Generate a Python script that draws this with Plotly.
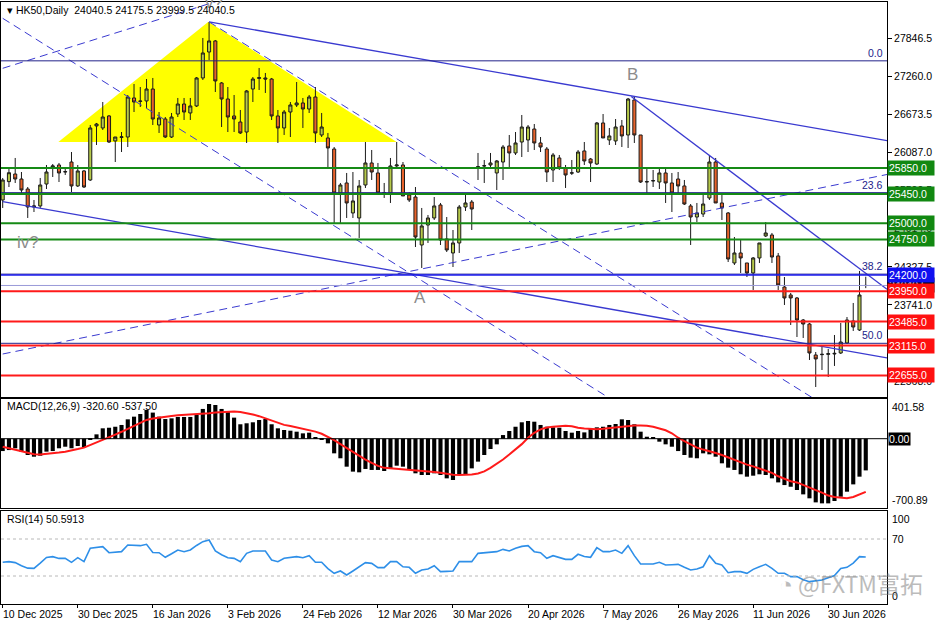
import plotly.graph_objects as go

# ---------------- DATA ----------------
opens = [25357, 25640, 25757, 25680, 25526, 25249, 25265, 25603, 25865, 25896,
         25795, 25942, 25573, 25804, 25665, 26497, 26466, 26651, 26266, 26320,
         26327, 26928, 26875, 26882, 27066, 26512, 26604, 26327, 26681, 26835,
         26697, 26805, 27236, 27636, 27806, 27159, 26912, 26651, 26558, 26404,
         27066, 27230, 27236, 27220, 26651, 26466, 26712, 26820, 26851, 26758,
         26943, 26358, 26312, 26142, 25465, 25619, 25157, 25080, 25588, 25927,
         25773, 25465, 25465, 25881, 25896, 25434, 25403, 24664, 24972, 25080,
         25280, 24757, 24541, 24695, 25249, 25326, 25860, 25880, 25896, 25773,
         25942, 26189, 26081, 26250, 26281, 26450, 26235, 26142, 25819, 26004,
         25850, 25770, 25788, 26112, 25988, 25911, 26543, 26281, 26266, 26497,
         26358, 26897, 26358, 25634, 25650, 25634, 25773, 25619, 25680, 25573,
         25265, 25095, 25141, 25388, 25942, 25311, 25157, 24387, 24541, 24387,
         24233, 24464, 24803, 24818, 24495, 24017, 23894, 23848, 23509, 23447,
         22970, 22975, 22980, 22985, 23001, 23155, 23494, 23355, 24040.5]
highs = [25696, 25850, 26004, 25788, 25557, 25357, 25696, 25896, 25911, 25927,
         25865, 26096, 25896, 25819, 26512, 26543, 26866, 26666, 26327, 26404,
         26974, 27143, 27097, 27220, 27236, 26712, 26635, 26697, 26928, 26928,
         26928, 27251, 27852, 28098, 27821, 27174, 27097, 26974, 26743, 27051,
         27251, 27390, 27313, 27236, 26743, 26743, 26866, 27174, 26928, 26974,
         27097, 26697, 26389, 26173, 25619, 25773, 25788, 25665, 26250, 26127,
         25927, 25619, 26004, 26250, 25942, 25480, 25557, 25234, 25126, 25403,
         25311, 25095, 24895, 25280, 25449, 25357, 26081, 25973, 26081, 25973,
         26204, 26358, 26404, 26666, 26512, 26527, 26327, 26173, 26081, 26050,
         25896, 25973, 26127, 26250, 26004, 26558, 26681, 26466, 26604, 26589,
         26928, 26943, 26358, 25850, 25819, 25850, 25850, 25773, 25788, 25665,
         25295, 25311, 25434, 26050, 26004, 25434, 25172, 24787, 24741, 24387,
         24479, 24695, 25018, 24849, 24541, 24171, 23925, 23863, 23524, 23463,
         23016, 23124, 23062, 23278, 23463, 23555, 23771, 24264, 24175.5]
lows = [25234, 25557, 25619, 25465, 25080, 25172, 25234, 25526, 25711, 25634,
        25742, 25480, 25557, 25542, 25650, 26204, 26435, 26235, 25942, 26096,
        26173, 26712, 26789, 26774, 26512, 26389, 26312, 26312, 26635, 26589,
        26589, 26789, 27205, 27513, 27020, 26481, 26404, 26404, 26373, 26235,
        26866, 27051, 27005, 26589, 26235, 26358, 26327, 26789, 26466, 26697,
        26235, 26327, 25850, 25003, 25003, 25080, 25080, 24772, 25542, 25665,
        25434, 25388, 25311, 25865, 25419, 25326, 24633, 24310, 24695, 25049,
        24664, 24556, 24325, 24541, 25188, 24895, 25665, 25619, 25850, 25511,
        25665, 25865, 26050, 26019, 26096, 26127, 26096, 25634, 25634, 25819,
        25542, 25742, 25773, 25896, 25634, 25896, 26312, 26204, 26204, 26173,
        26158, 26235, 25619, 25465, 25557, 25526, 25311, 25172, 25434, 25280,
        24664, 25018, 25095, 25357, 25311, 25049, 24402, 24356, 24233, 24171,
        23971, 24387, 24787, 24387, 23971, 23740, 23432, 23247, 23232, 22893,
        22477, 22739, 22631, 22801, 22985, 23139, 23340, 23340, 23999.5]
closes = [25665, 25777, 25680, 25511, 25249, 25265, 25588, 25788, 25881, 25773,
          25790, 25573, 25804, 25557, 26466, 26527, 26635, 26250, 26327, 26330,
          26943, 26866, 26880, 27066, 26604, 26620, 26327, 26635, 26835, 26712,
          26805, 27236, 27621, 27806, 27190, 26912, 26635, 26604, 26389, 27036,
          27220, 27240, 27220, 26651, 26466, 26712, 26820, 26851, 26758, 26943,
          26389, 26481, 26158, 25465, 25588, 25311, 25342, 25573, 25927, 25788,
          25465, 25470, 25881, 25896, 25419, 25357, 24787, 24957, 25080, 25265,
          24741, 24587, 24695, 25249, 25311, 25218, 25870, 25885, 25927, 25958,
          26173, 26081, 26235, 26481, 26481, 26235, 26173, 25788, 26050, 25850,
          25742, 25775, 26096, 25958, 25927, 26543, 26312, 26343, 26481, 26343,
          26912, 26358, 25634, 25640, 25655, 25773, 25619, 25465, 25573, 25295,
          25095, 25157, 25295, 25942, 25311, 25234, 24448, 24541, 24464, 24233,
          24464, 24695, 24849, 24479, 24048, 23848, 23848, 23509, 23447, 23001,
          22909, 22980, 22990, 22995, 23170, 23509, 23401, 23894, 24040.5]

macd_hist = [-125, -115, -97, -131, -165, -182, -172, -131, -125, -97,
             -81, -97, -74, -87, -6, 44, 105, 111, 121, 139,
             196, 223, 250, 291, 264, 223, 199, 206, 220, 220,
             220, 240, 301, 351, 341, 301, 274, 213, 146, 156,
             166, 189, 199, 146, 105, 88, 81, 71, 54, 61,
             10, -6, -47, -148, -198, -283, -333, -340, -306, -316,
             -316, -327, -300, -273, -283, -316, -350, -367, -367, -350,
             -367, -401, -418, -367, -367, -300, -232, -165, -104, -57,
             37, 78, 121, 166, 179, 172, 139, 121, 115, 111,
             78, 61, 78, 64, 105, 115, 121, 139, 149, 196,
             189, 146, 71, 20, 10, -30, -57, -81, -125, -165,
             -192, -198, -148, -158, -182, -249, -293, -316, -360, -384,
             -374, -360, -367, -401, -442, -469, -486, -519, -563, -603,
             -644, -654, -654, -630, -587, -536, -462, -384, -320.6]
macd_signal = [-81, -95, -110, -125, -145, -158, -160, -155, -148, -140,
               -131, -120, -105, -90, -65, -35, -10, 15, 42, 70,
               100, 125, 155, 190, 205, 215, 223, 230, 237, 240,
               243, 246, 250, 258, 266, 270, 273, 274, 270, 260,
               245, 228, 208, 188, 160, 140, 128, 113, 100, 88,
               72, 50, 18, -15, -55, -95, -140, -180, -212, -245,
               -275, -295, -300, -305, -310, -313, -317, -322, -330, -338,
               -345, -358, -364, -367, -367, -362, -352, -330, -295, -255,
               -210, -160, -110, -55, 10, 60, 95, 113, 122, 128,
               132, 125, 110, 103, 98, 95, 100, 108, 115, 122,
               130, 133, 133, 132, 120, 100, 85, 55, 10, -25,
               -60, -90, -110, -125, -145, -165, -190, -213, -232, -262,
               -280, -302, -325, -345, -380, -405, -430, -442, -470, -495,
               -520, -545, -575, -590, -600, -603, -590, -565, -537.5]
rsi = [44.8, 45.5, 44.5, 41, 38.5, 38.3, 44, 50, 50.9, 49,
       49, 44.8, 49.8, 45.5, 60, 60.5, 61.7, 55.2, 55.5, 56.3,
       63.5, 63, 62.8, 64.3, 55.4, 55.2, 50.2, 54, 58.1, 56.3,
       58.1, 63, 67.1, 68.9, 57, 53, 49.8, 49.1, 45.5, 54.5,
       57, 57, 57, 47.3, 45.5, 49.1, 50, 50.9, 49.8, 52,
       44.8, 44.8, 38, 32.9, 35.4, 31.1, 35.4, 40, 44.4, 43.7,
       39, 39, 45.5, 45.5, 40, 39.4, 32.9, 36.5, 37.6, 41.1,
       34.7, 35, 35.4, 45.5, 45.5, 45.5, 54.5, 55.2, 55.5, 56.3,
       58.8, 57, 60, 62, 62.8, 56.3, 55.2, 49.1, 52, 50,
       48, 48, 53.5, 51, 50.2, 60.6, 56.3, 56.3, 58.1, 54.5,
       62.8, 52, 43, 43, 43, 44.8, 41.9, 42.2, 42.6, 39.4,
       36.5, 37.6, 40, 52, 43.7, 41.9, 33.6, 34.7, 34.7, 32.9,
       37.2, 40, 42.6, 38.2, 32.9, 32.9, 29.3, 29.3, 26, 23.9,
       25, 25.7, 28.1, 30.4, 38.2, 39.4, 44, 50.9, 50.5913]

date_label_bars = [0, 12, 24, 36, 48, 60, 72, 84, 96, 108, 120, 132]
date_labels = ["10 Dec 2025", "30 Dec 2025", "16 Jan 2026", "3 Feb 2026",
               "24 Feb 2026", "12 Mar 2026", "30 Mar 2026", "20 Apr 2026",
               "7 May 2026", "26 May 2026", "11 Jun 2026", "30 Jun 2026"]

price_ticks = [27846.5, 27260.0, 26673.5, 26087.0, 25500.5, 24914.0,
               24327.5, 23741.0, 23154.5, 22568.0]

green_levels = [25850.0, 25450.0, 25000.0, 24750.0]
blue_levels = [24200.0]
red_levels = [23950.0, 23485.0, 23115.0, 22655.0]
fib_names = ["0.0", "23.6", "38.2", "50.0"]
fib_prices = [27500, 25470, 24215, 23150]
last_price = 24040.5

# yellow triangle (bar, price)
tri_bars = [8.9, 32.9, 63.0]
tri_prices = [26250, 28100, 26250]

# trendlines: (bar0, price0, bar1, price1)
solid_lines = [(33.0, 28100, 141.4, 26270),     # from top, gentle down
               (0.0, 25331, 141.4, 22924),      # parallel lower
               (100.5, 26950, 141.4, 23981)]    # from B, steep
dash_lines = [(0.0, 28155, 100.0, 22125),       # steep channel 1
              (33.0, 28100, 130.0, 22280),      # steep channel 2
              (0.0, 22985, 141.4, 25750),       # rising from bottom left
              (0.0, 27385, 36.0, 28470)]        # rising top left

wave_labels = [("B", 100.7, 27297, 0), ("A", 66.8, 23863, 0), ("iv?", 4.05, 24695, 0),
               ("v?", 33.8, 28390, 1)]

# ---------------- LAYOUT GEOMETRY ----------------
W, H = 936, 624
ML, MR = 1, 49
N = len(opens)
idx = list(range(N))
bar_px = 6.254
x0_px = 2.7
xmin = -(x0_px - ML) / bar_px
xmax = xmin + (W - ML - MR) / bar_px
PW = W - ML - MR


def py(p):
    return 1 - p / H


FONT = "Liberation Sans, Arial, sans-serif"
NAVY = "#22228a"
BLUE_LN = "#3a3ad0"

fig = go.Figure()

# candles
fig.add_trace(go.Candlestick(x=idx, open=opens, high=highs, low=lows, close=closes,
                             increasing=dict(fillcolor="#b6c94a", line=dict(color="#1a1a1a", width=1)),
                             decreasing=dict(fillcolor="#e8632b", line=dict(color="#1a1a1a", width=1)),
                             whiskerwidth=0, xaxis="x", yaxis="y", hoverinfo="skip"))

# trendlines
for (b0, p0, b1, p1) in solid_lines:
    fig.add_trace(go.Scatter(x=[b0, b1], y=[p0, p1], mode="lines",
                             line=dict(color=BLUE_LN, width=1.3), hoverinfo="skip",
                             xaxis="x", yaxis="y"))
for (b0, p0, b1, p1) in dash_lines:
    fig.add_trace(go.Scatter(x=[b0, b1], y=[p0, p1], mode="lines",
                             line=dict(color=BLUE_LN, width=1, dash="8px,5px"), hoverinfo="skip",
                             xaxis="x", yaxis="y"))

# MACD
fig.add_trace(go.Bar(x=idx, y=macd_hist, marker=dict(color="#000000", line=dict(width=0)),
                     width=0.66, xaxis="x2", yaxis="y2", hoverinfo="skip"))
fig.add_trace(go.Scatter(x=idx, y=macd_signal, mode="lines", line=dict(color="#ff1a1a", width=2),
                         xaxis="x2", yaxis="y2", hoverinfo="skip"))

# RSI
fig.add_trace(go.Scatter(x=idx, y=rsi, mode="lines", line=dict(color="#2e8fe8", width=1.6),
                         xaxis="x3", yaxis="y3", hoverinfo="skip"))

shapes = []
# yellow triangle drawn beneath the candles
tri_path = "M {} {} L {} {} L {} {} Z".format(tri_bars[0], tri_prices[0], tri_bars[1], tri_prices[1],
                                               tri_bars[2], tri_prices[2])
shapes.append(dict(type="path", path=tri_path, xref="x", yref="y", layer="below",
                   fillcolor="#ffff00", line=dict(width=0)))
for lv in fib_prices:
    shapes.append(dict(type="line", xref="x domain", yref="y", x0=0, x1=1, y0=lv, y1=lv,
                       line=dict(color=NAVY, width=1)))
for lv in green_levels:
    shapes.append(dict(type="line", xref="x domain", yref="y", x0=0, x1=1, y0=lv, y1=lv,
                       line=dict(color="#158a15", width=2)))
for lv in blue_levels:
    shapes.append(dict(type="line", xref="x domain", yref="y", x0=0, x1=1, y0=lv, y1=lv,
                       line=dict(color="#1a1aee", width=1.5)))
shapes.append(dict(type="line", xref="x domain", yref="y", x0=0, x1=1, y0=last_price, y1=last_price,
                   line=dict(color="#9a9ad8", width=1)))
for lv in red_levels:
    shapes.append(dict(type="line", xref="x domain", yref="y", x0=0, x1=1, y0=lv, y1=lv,
                       line=dict(color="#ff1a1a", width=2)))
# macd zero, rsi 70/30
shapes.append(dict(type="line", xref="x2 domain", yref="y2", x0=0, x1=1, y0=0, y1=0,
                   line=dict(color="#000000", width=1)))
for lv in [70, 30]:
    shapes.append(dict(type="line", xref="x3 domain", yref="y3", x0=0, x1=1, y0=lv, y1=lv,
                       line=dict(color="#b8b8b8", width=1, dash="dot")))

ann = []
# wave labels
for t, b, p, ys in wave_labels:
    ann.append(dict(x=b, y=p, xref="x", yref="y", text=t, showarrow=False, yshift=ys,
                    font=dict(family=FONT, size=17, color="#8c8c8c")))
# fib labels
for name, lv in zip(fib_names, fib_prices):
    ann.append(dict(x=1, y=lv, xref="paper", yref="y", text=name, showarrow=False,
                    xanchor="right", yanchor="bottom", xshift=-2,
                    font=dict(family=FONT, size=10.5, color=NAVY)))


# right side price boxes
def box(val, bg):
    return dict(x=1, y=val, xref="paper", yref="y", text=f"{val:.1f}", showarrow=False,
                xanchor="left", yanchor="middle", xshift=0, bgcolor=bg, borderpad=1,
                width=44, align="left", font=dict(family=FONT, size=10.5, color="#ffffff"))


ann.append(box(last_price, "#000000"))
for lv in green_levels:
    ann.append(box(lv, "#118811"))
for lv in blue_levels:
    ann.append(box(lv, "#1010f0"))
for lv in red_levels:
    ann.append(box(lv, "#ff1010"))

# header texts
ann.append(dict(x=0, y=py(10), xref="paper", yref="paper", xanchor="left", yanchor="middle",
                xshift=4, showarrow=False,
                text="▾ HK50,Daily  24040.5 24175.5 23999.5 24040.5",
                font=dict(family=FONT, size=10.5, color="#000000")))
ann.append(dict(x=0, y=py(406), xref="paper", yref="paper", xanchor="left", yanchor="middle",
                xshift=4, showarrow=False, text="MACD(12,26,9) -320.60 -537.50",
                font=dict(family=FONT, size=10.5, color="#000000")))
ann.append(dict(x=0, y=py(519), xref="paper", yref="paper", xanchor="left", yanchor="middle",
                xshift=4, showarrow=False, text="RSI(14) 50.5913",
                font=dict(family=FONT, size=10.5, color="#000000")))

# MACD axis labels
ann.append(dict(x=1, y=401.58, xref="paper", yref="y2", xanchor="left", yanchor="top",
                xshift=3, showarrow=False, text="401.58",
                font=dict(family=FONT, size=10.5, color="#000000")))
ann.append(dict(x=1, y=0, xref="paper", yref="y2", xanchor="left", yanchor="middle",
                xshift=1, showarrow=False, text="0.00", bgcolor="#000000", borderpad=0,
                font=dict(family=FONT, size=10.5, color="#ffffff")))
ann.append(dict(x=1, y=-700.89, xref="paper", yref="y2", xanchor="left", yanchor="bottom",
                xshift=3, showarrow=False, text="-700.89",
                font=dict(family=FONT, size=10.5, color="#000000")))
# RSI axis labels
for v, ya in [(100, "top"), (70, "middle"), (0, "bottom")]:
    ann.append(dict(x=1, y=v, xref="paper", yref="y3", xanchor="left", yanchor=ya,
                    xshift=3, showarrow=False, text=str(v),
                    font=dict(family=FONT, size=10.5, color="#000000")))

# date labels
for b, t in zip(date_label_bars, date_labels):
    ann.append(dict(x=b, y=py(614), xref="x3", yref="paper", xanchor="left", yanchor="middle",
                    xshift=-2, showarrow=False, text=t,
                    font=dict(family=FONT, size=10.5, color="#000000")))

# watermark
ann.append(dict(x=(925 - ML) / PW, y=py(583), xref="paper", yref="paper", xanchor="right",
                yanchor="middle", showarrow=False, text="◔ @FXTM富拓", opacity=0.5,
                font=dict(family="Noto Sans CJK SC, Liberation Sans", size=23, color="#7a7a7a")))

axis_common = dict(showgrid=False, zeroline=False, showline=True, mirror=True,
                   linecolor="#000000", linewidth=1)

fig.update_layout(
    width=W, height=H, margin=dict(l=ML, r=MR, t=0, b=0),
    paper_bgcolor="#ffffff", plot_bgcolor="#ffffff", showlegend=False,
    bargap=0.3, shapes=shapes, annotations=ann,
    xaxis=dict(domain=[0, 1], range=[xmin, xmax], anchor="y", showticklabels=False,
               rangeslider=dict(visible=False), ticks="", **axis_common),
    yaxis=dict(domain=[py(397), py(2)], range=[22323, 28406], anchor="x", side="right",
               tickvals=price_ticks, ticktext=[f"{v:.1f}" for v in price_ticks],
               ticks="outside", ticklen=4, tickcolor="#000000",
               tickfont=dict(family=FONT, size=10.5, color="#000000"), **axis_common),
    xaxis2=dict(domain=[0, 1], range=[xmin, xmax], anchor="y2", showticklabels=False,
                ticks="", **axis_common),
    yaxis2=dict(domain=[py(508), py(399)], range=[-700.89, 401.58], anchor="x2", side="right",
                showticklabels=False, ticks="", **axis_common),
    xaxis3=dict(domain=[0, 1], range=[xmin, xmax], anchor="y3", showticklabels=False,
                tickvals=date_label_bars, ticks="outside", ticklen=3, tickcolor="#000000",
                **axis_common),
    yaxis3=dict(domain=[py(603.75), py(511.25)], range=[0, 100], anchor="x3", side="right",
                showticklabels=False, ticks="", **axis_common),
)

fig.write_html("out.html")
